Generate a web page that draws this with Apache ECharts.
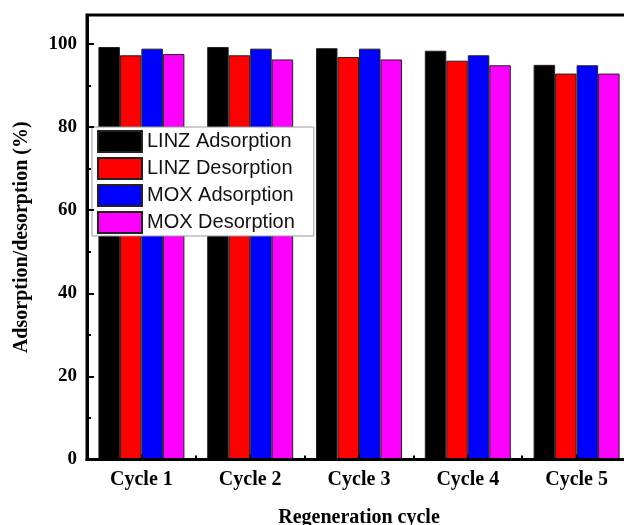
<!DOCTYPE html>
<html>
<head>
<meta charset="utf-8">
<script src="https://cdn.jsdelivr.net/npm/echarts@6/dist/echarts.min.js"></script>
<style>html,body{margin:0;padding:0;background:#fff;}#c{width:624px;height:525px;}</style>
</head>
<body>
<div id="c"></div>
<script>
const categories = ['Cycle 1', 'Cycle 2', 'Cycle 3', 'Cycle 4', 'Cycle 5'];
const linzAdsorption = [99.3, 99.3, 99.0, 98.4, 95.0];
const linzDesorption = [97.3, 97.3, 96.9, 96.0, 92.9];
const moxAdsorption = [98.9, 98.9, 98.9, 97.3, 94.9];
const moxDesorption = [97.6, 96.3, 96.3, 94.9, 92.9];
const seriesNames = ['LINZ Adsorption', 'LINZ Desorption', 'MOX Adsorption', 'MOX Desorption'];
const seriesColors = ['#000000', '#ff0000', '#0000ff', '#ff00ff'];
const seriesData = [linzAdsorption, linzDesorption, moxAdsorption, moxDesorption];

const serif = 'Liberation Serif, Times New Roman, serif';
const chart = echarts.init(document.getElementById('c'), null, {renderer: 'canvas'});
chart.setOption({
  animation: false,
  backgroundColor: '#fff',
  grid: {left: 87, top: 15, width: 544, height: 444.5, show: true, borderColor: '#000', borderWidth: 3,
         backgroundColor: 'transparent', outerBoundsMode: 'none', containLabel: false},
  legend: {
    left: 92, top: 127, orient: 'vertical',
    itemWidth: 44, itemHeight: 21, itemGap: 4,
    padding: [3, 19, 2, 5],
    backgroundColor: '#fff', borderColor: '#999', borderWidth: 1,
    icon: 'rect',
    textStyle: {fontFamily: 'Liberation Sans, Arial, sans-serif', fontSize: 20, color: '#111'},
    data: seriesNames
  },
  xAxis: [{
    type: 'category', data: categories, position: 'bottom', z: 10,
    axisLine: {lineStyle: {color: '#000', width: 3}},
    axisTick: {show: true, alignWithLabel: true, inside: true, length: 5, lineStyle: {color: '#000', width: 2}},
    axisLabel: {margin: 10, fontFamily: serif, fontWeight: 'bold', fontSize: 20, color: '#000'},
    name: 'Regeneration cycle', nameLocation: 'middle', nameGap: 48,
    nameTextStyle: {fontFamily: serif, fontWeight: 'bold', fontSize: 20, color: '#000'}
  }, {
    type: 'category', data: categories, position: 'bottom', z: 10,
    axisLine: {show: false},
    axisTick: {show: true, alignWithLabel: false, inside: true, length: 4, lineStyle: {color: '#000', width: 2}},
    axisLabel: {show: false}
  }],
  yAxis: [{
    type: 'value', min: 0, max: 107, interval: 20, z: 10,
    axisLine: {show: true, lineStyle: {color: '#000', width: 3}},
    axisTick: {show: true, inside: true, length: 7, lineStyle: {color: '#000', width: 2}},
    splitLine: {show: false},
    axisLabel: {margin: 10, showMaxLabel: false, fontFamily: serif, fontWeight: 'bold', fontSize: 19, color: '#000'},
    name: 'Adsorption/desorption (%)', nameLocation: 'middle', nameGap: 55,
    nameTextStyle: {fontFamily: serif, fontWeight: 'bold', fontSize: 20, color: '#000'}
  }, {
    type: 'value', min: 0, max: 107, interval: 10, position: 'left', z: 10,
    axisLine: {show: false},
    axisTick: {show: true, inside: true, length: 4, lineStyle: {color: '#000', width: 2}},
    splitLine: {show: false},
    axisLabel: {show: false}
  }],
  series: seriesNames.map((n, i) => ({
    name: n, type: 'bar', data: seriesData[i],
    barWidth: 21.5, barGap: '0%',
    itemStyle: {color: seriesColors[i], borderColor: '#222', borderWidth: 1}
  }))
});
</script>
</body>
</html>
